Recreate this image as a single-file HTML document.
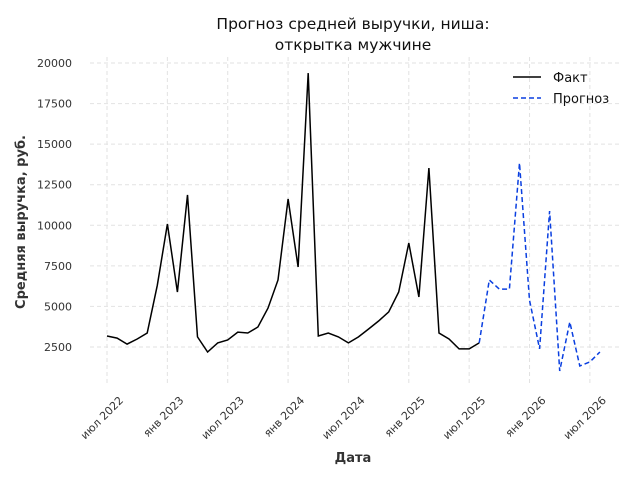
<!DOCTYPE html>
<html><head><meta charset="utf-8"><style>
body{margin:0;background:#fff}
svg text{font-family:"DejaVu Sans","Liberation Sans",sans-serif}
</style></head><body>
<svg id="chart" width="640" height="480" xmlns="http://www.w3.org/2000/svg">
<text x="353" y="29" font-size="15.5" text-anchor="middle" fill="#111">Прогноз средней выручки, ниша:</text>
<text x="353" y="50" font-size="15.5" text-anchor="middle" fill="#111">открытка мужчине</text>
<g id="grid"></g><g id="yticks"></g><g id="xticks"></g><g id="series"></g>
<text x="353" y="462" font-size="13" font-weight="bold" text-anchor="middle" fill="#333">Дата</text>
<text transform="translate(25,222) rotate(-90)" font-size="13" font-weight="bold" text-anchor="middle" fill="#333">Средняя выручка, руб.</text>
<g>
<line x1="513" y1="77" x2="541" y2="77" stroke="#000" stroke-width="1.5"/>
<text x="553" y="82" font-size="13" fill="#111">Факт</text>
<line x1="513" y1="98" x2="541" y2="98" stroke="#0a3fe0" stroke-width="1.5" stroke-dasharray="5,3"/>
<text x="553" y="103" font-size="13" fill="#111">Прогноз</text>
</g>
</svg>
<script>
const factStart = [2022, 7];
const factValues = [3180,3050,2680,2990,3360,6300,10080,5890,11870,3120,2190,2750,2930,3420,3360,3730,4900,6630,11620,7430,19380,3180,3360,3120,2750,3120,3610,4100,4660,5890,8910,5580,13530,3360,2990,2380,2380,2750];
const forecastStart = [2025, 8];
const forecastValues = [2750,6630,6070,6070,13840,5390,2380,10880,1020,4040,1330,1580,2190];
const yTicks = [2500,5000,7500,10000,12500,15000,17500,20000];
const xTickLabels = ["июл 2022","янв 2023","июл 2023","янв 2024","июл 2024","янв 2025","июл 2025","янв 2026","июл 2026"];
const xTickDates = [[2022,7],[2023,1],[2023,7],[2024,1],[2024,7],[2025,1],[2025,7],[2026,1],[2026,7]];
const NS="http://www.w3.org/2000/svg";
function mi(y,m){return y*12+m-1;}
const m0=mi(2022,7);
function xS(y,m){return 107+(mi(y,m)-m0)*10.06;}
function yS(v){return 347-(v-2500)*(284/17500);}
function el(t,a,p){const e=document.createElementNS(NS,t);for(const k in a)e.setAttribute(k,a[k]);document.getElementById(p).appendChild(e);return e;}
yTicks.forEach(v=>{
  const g=el('line',{x1:90,x2:622,y1:yS(v),y2:yS(v),stroke:'#e2e2e2','stroke-dasharray':'4,3'},'grid');
  
  
  const t=el('text',{x:72,y:yS(v)+4,'font-size':11,'text-anchor':'end',fill:'#333'},'yticks');
  
  
  t.textContent=v;
});
xTickDates.forEach((d,i)=>{
  const x=xS(d[0],d[1]);
  const g=el('line',{x1:x,x2:x,y1:57,y2:386,stroke:'#e2e2e2','stroke-dasharray':'4,3'},'grid');
  
  
  const t=el('text',{transform:`translate(${x+17},401) rotate(-45)`,'font-size':11,'text-anchor':'end',fill:'#333'},'xticks');
  
  
  t.textContent=xTickLabels[i];
});
function pts(start,vals){return vals.map((v,i)=>{const mm=start[1]-1+i;return xS(start[0]+Math.floor(mm/12),mm%12+1).toFixed(1)+','+yS(v).toFixed(1);}).join(' ');}
const f=el('polyline',{points:pts(factStart,factValues),fill:'none',stroke:'#000','stroke-width':1.5},'series');


const p=el('polyline',{points:pts(forecastStart,forecastValues),fill:'none',stroke:'#0a3fe0','stroke-width':1.5,'stroke-dasharray':'5,3'},'series');


</script>
</body></html>
